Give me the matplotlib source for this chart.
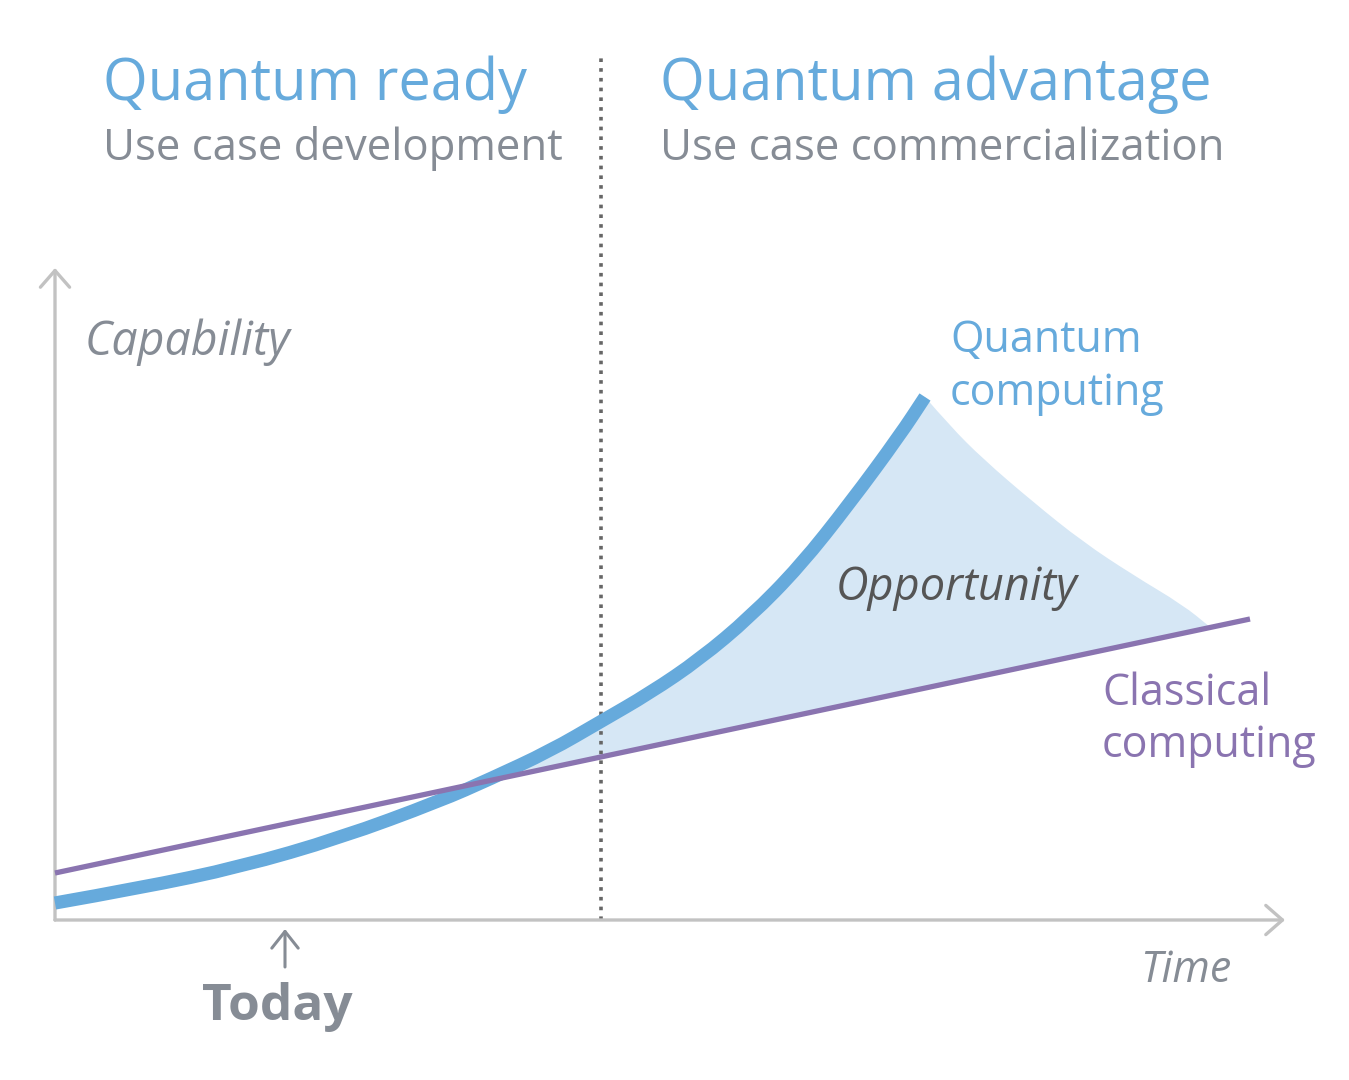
import numpy as np
import matplotlib
matplotlib.use('Agg')
import matplotlib.pyplot as plt
from matplotlib.path import Path
from matplotlib.patches import PathPatch

plt.rcParams['font.family'] = ['Open Sans', 'DejaVu Sans']

# quantum computing curve (time, capability)
quantum_t = [0, 85, 185, 285, 385, 435, 495, 545, 595, 645, 695, 745, 795, 845, 870]
quantum_v = [17, 32, 53, 82, 119, 141, 169, 198, 227, 261, 303, 354, 417, 485, 523]

# classical computing line
classical_t = [0, 1195]
classical_v = [47, 301]

# upper edge of the opportunity region
edge_t = [870, 895, 928, 978, 1028, 1078, 1128, 1155]
edge_v = [523, 494, 461, 418, 378, 345, 315, 293]

cross_t = 435
today_t = 230
phase_t = 546

blue = '#66aadc'
purple = '#8a74b0'
gray_txt = '#868c95'
axis_gray = '#c2c2c2'


def smooth_path(ts, vs, start=True):
    # quadratic b-spline through the read points, used for drawing only
    pts = list(zip(ts, vs))
    verts = [pts[0]]
    codes = [Path.MOVETO if start else Path.LINETO]
    for i in range(1, len(pts) - 1):
        mid = ((pts[i][0] + pts[i + 1][0]) / 2, (pts[i][1] + pts[i + 1][1]) / 2)
        verts += [pts[i], mid]
        codes += [Path.CURVE3, Path.CURVE3]
    verts.append(pts[-1])
    codes.append(Path.LINETO)
    return verts, codes


fig = plt.figure(figsize=(13.49, 10.8), dpi=100)
ax = fig.add_axes([0, 0, 1, 1])
ax.set_xlim(-55, 1294)
ax.set_ylim(-160, 920)
ax.axis('off')

# opportunity fill
q_t = np.array(quantum_t)
q_v = np.array(quantum_v)
mask = q_t >= cross_t
v1, c1 = smooth_path(q_t[mask], q_v[mask])
v2, c2 = smooth_path(edge_t, edge_v, start=False)
back_t = [edge_t[-1], cross_t]
back_v = np.interp(back_t, classical_t, classical_v)
verts = v1 + v2 + [(back_t[1], back_v[1]), (back_t[1], back_v[1])]
codes = c1 + c2 + [Path.LINETO, Path.CLOSEPOLY]
ax.add_patch(PathPatch(Path(verts, codes), facecolor='#d6e7f5', lw=0, zorder=1))

# axes with open arrow heads
arrow = dict(arrowstyle='->,head_length=1.2,head_width=1.05', color=axis_gray, lw=2.4,
             shrinkA=0, shrinkB=0, mutation_scale=10)
ax.annotate('', xy=(0, 652), xytext=(0, 0), arrowprops=arrow)
ax.annotate('', xy=(1230, 0), xytext=(0, 0), arrowprops=arrow)

# phase divider
ax.plot([phase_t, phase_t], [0, 865], color='#666666', lw=2.6, linestyle=(0, (1, 1.7)), zorder=2)

ax.plot(classical_t, classical_v, color=purple, lw=3.8, solid_capstyle='butt', zorder=4)
qv, qc = smooth_path(quantum_t, quantum_v)
ax.add_patch(PathPatch(Path(qv, qc), fill=False, edgecolor=blue, lw=9.5,
                       capstyle='butt', zorder=3))

# today marker
ax.annotate('', xy=(today_t, -9), xytext=(today_t, -47),
            arrowprops=dict(arrowstyle='->,head_length=1.2,head_width=0.95', color=gray_txt,
                            lw=2.2, shrinkA=0, shrinkB=0, mutation_scale=10))
ax.text(today_t - 8, -100, 'Today', fontsize=37, fontweight='bold', color=gray_txt,
        ha='center', va='baseline')

# titles
ax.text(48, 820, 'Quantum ready', fontsize=41.5, color=blue, va='baseline')
ax.text(48, 760, 'Use case development', fontsize=31.5, color=gray_txt, va='baseline')
ax.text(605, 820, 'Quantum advantage', fontsize=41.5, color=blue, va='baseline')
ax.text(605, 760, 'Use case commercialization', fontsize=31.5, color=gray_txt, va='baseline')

# labels
ax.text(30, 565, 'Capability', fontsize=33.5, style='italic', color=gray_txt, va='baseline')
ax.text(1085, -62, 'Time', fontsize=31, style='italic', color=gray_txt, va='baseline')
ax.text(895, 568, 'Quantum', fontsize=31, color=blue, va='baseline')
ax.text(895, 515, 'computing', fontsize=31, color=blue, va='baseline')
ax.text(1047, 215, 'Classical', fontsize=31, color=purple, va='baseline')
ax.text(1047, 163, 'computing', fontsize=31, color=purple, va='baseline')
ax.text(781, 320, 'Opportunity', fontsize=32.5, style='italic', color='#555555', va='baseline')

fig.savefig('out.png', dpi=100)
